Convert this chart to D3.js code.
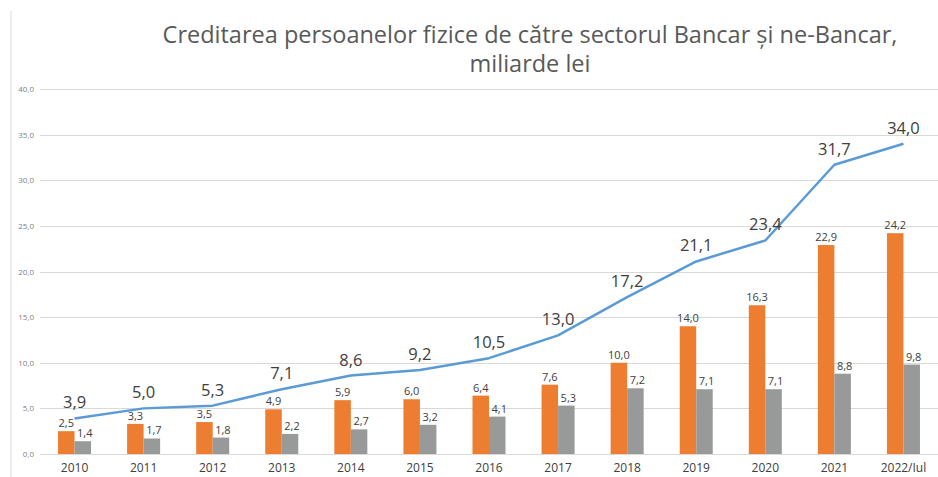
<!DOCTYPE html>
<html>
<head>
<meta charset="utf-8">
<script src="https://cdn.jsdelivr.net/npm/d3@7"></script>
<style>
body { margin: 0; background: #fff; }
svg { display: block; font-family: "Open Sans", sans-serif; }
.grid line { stroke: #d9d9d9; stroke-width: 1; }
.tick-label { fill: #7f7f7f; font-size: 8px; }
.cat-label { fill: #404040; font-size: 12px; }
.line-label { fill: #404040; font-size: 16.5px; }
.bar-label { fill: #404040; font-size: 11px; }
.title { fill: #595959; font-size: 23.5px; }
</style>
</head>
<body>
<svg id="chart" width="938" height="477"></svg>
<script>
var years = ["2010","2011","2012","2013","2014","2015","2016","2017","2018","2019","2020","2021","2022/Iul"];
var total = [3.9, 5.0, 5.3, 7.1, 8.6, 9.2, 10.5, 13.0, 17.2, 21.1, 23.4, 31.7, 34.0];
var bancar = [2.5, 3.3, 3.5, 4.9, 5.9, 6.0, 6.4, 7.6, 10.0, 14.0, 16.3, 22.9, 24.2];
var neBancar = [1.4, 1.7, 1.8, 2.2, 2.7, 3.2, 4.1, 5.3, 7.2, 7.1, 7.1, 8.8, 9.8];
var yTicks = [0, 5, 10, 15, 20, 25, 30, 35, 40];

var ORANGE = "#ed7d31", GRAY = "#989a9a", BLUE = "#5b9bd5";

var ro = d3.formatLocale({decimal: ",", thousands: ".", grouping: [3], currency: ["", " lei"]});
var fmt = ro.format(".1f");

var svg = d3.select("#chart");

var x = d3.scaleBand().domain(years).range([40, 938]).paddingInner(0).paddingOuter(0);
var y = d3.scaleLinear().domain([0, 40]).range([454, 89]);
var inner = d3.scaleBand().domain(["bancar", "neBancar"]).range([-16.5, 16.5]);

// left frame line
svg.append("line")
	.attr("x1", 11).attr("x2", 11)
	.attr("y1", 11).attr("y2", 477)
	.attr("stroke", "#e6e6e6").attr("stroke-width", 1.5);

// title
var title = svg.append("text").attr("class", "title").attr("text-anchor", "middle");
title.append("tspan").attr("x", 530).attr("y", 43).text("Creditarea persoanelor fizice de către sectorul Bancar și ne-Bancar,");
title.append("tspan").attr("x", 530).attr("y", 72).text("miliarde lei");

// gridlines
svg.append("g").attr("class", "grid")
	.selectAll("line")
	.data(yTicks)
	.enter().append("line")
	.attr("x1", 40).attr("x2", 938)
	.attr("y1", function(d) { return Math.round(y(d)) + 0.5; })
	.attr("y2", function(d) { return Math.round(y(d)) + 0.5; });

svg.append("g")
	.selectAll("text")
	.data(yTicks)
	.enter().append("text")
	.attr("class", "tick-label")
	.attr("text-anchor", "end")
	.attr("x", 34)
	.attr("y", function(d) { return y(d) + 3; })
	.text(function(d) { return fmt(d); });

// category labels
svg.append("g")
	.selectAll("text")
	.data(years)
	.enter().append("text")
	.attr("class", "cat-label")
	.attr("text-anchor", "middle")
	.attr("x", function(d) { return x(d) + x.bandwidth() / 2; })
	.attr("y", 472)
	.text(function(d) { return d; });

// bars
var series = [
	{key: "bancar", values: bancar, color: ORANGE},
	{key: "neBancar", values: neBancar, color: GRAY}
];

series.forEach(function(s) {
	var g = svg.append("g");
	g.selectAll("rect")
		.data(s.values)
		.enter().append("rect")
		.attr("x", function(d, i) { return x(years[i]) + x.bandwidth() / 2 + inner(s.key); })
		.attr("width", inner.bandwidth())
		.attr("y", function(d) { return y(d); })
		.attr("height", function(d) { return y(0) - y(d); })
		.attr("fill", s.color);
	g.selectAll("text")
		.data(s.values)
		.enter().append("text")
		.attr("class", "bar-label")
		.attr("text-anchor", "middle")
		.attr("x", function(d, i) { return x(years[i]) + x.bandwidth() / 2 + inner(s.key) + inner.bandwidth() / 2 + (s.key == "neBancar" ? 2 : 0); })
		.attr("y", function(d) { return y(d) - 4; })
		.text(function(d) { return fmt(d); });
});

// total line
var line = d3.line()
	.x(function(d, i) { return x(years[i]) + x.bandwidth() / 2; })
	.y(function(d) { return y(d); });

svg.append("path")
	.datum(total)
	.attr("d", line)
	.attr("fill", "none")
	.attr("stroke", BLUE)
	.attr("stroke-width", 2.5)
	.attr("stroke-linejoin", "round");

svg.append("g")
	.selectAll("text")
	.data(total)
	.enter().append("text")
	.attr("class", "line-label")
	.attr("text-anchor", "middle")
	.attr("x", function(d, i) { return x(years[i]) + x.bandwidth() / 2; })
	.attr("y", function(d) { return y(d) - 10; })
	.text(function(d) { return fmt(d); });
</script>
</body>
</html>
